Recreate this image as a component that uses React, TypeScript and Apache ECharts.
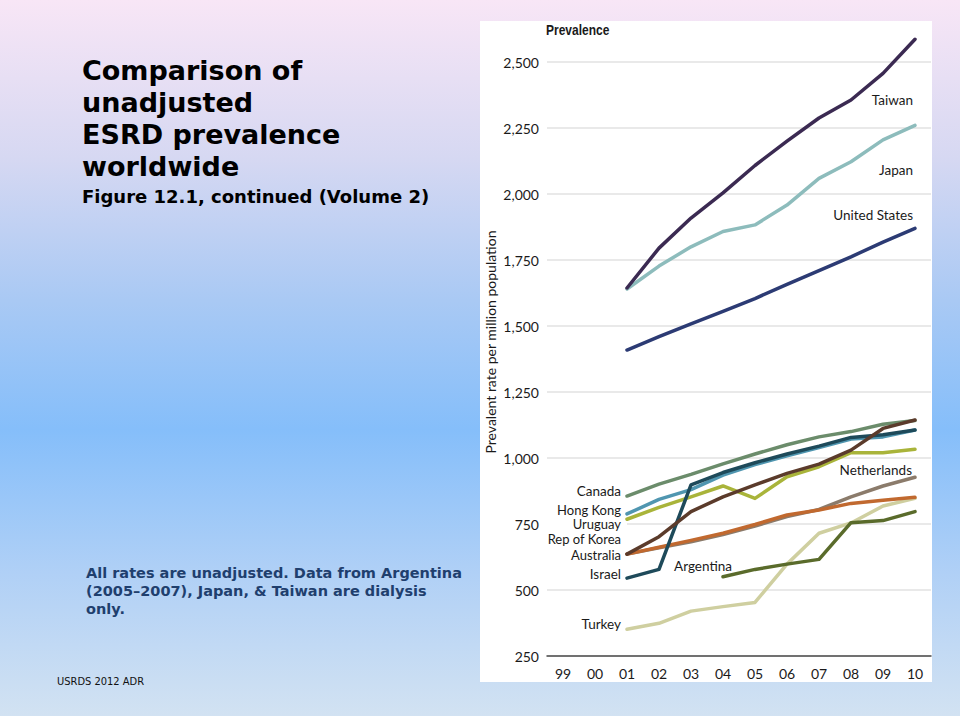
import React, { useEffect, useRef } from "react";
import * as echarts from "echarts";

const years = ["99", "00", "01", "02", "03", "04", "05", "06", "07", "08", "09", "10"];
const yTicks = [250, 500, 750, 1000, 1250, 1500, 1750, 2000, 2250, 2500];

const taiwan = [null, null, 1644, 1795, 1909, 2004, 2108, 2200, 2288, 2356, 2457, 2586];
const japan = [null, null, 1640, 1727, 1800, 1858, 1883, 1958, 2059, 2122, 2205, 2260];
const unitedStates = [null, null, 1409, 1460, 1508, 1555, 1604, 1658, 1710, 1762, 1818, 1870];
const canada = [null, null, 856, 901, 938, 978, 1015, 1050, 1080, 1100, 1128, 1142];
const hongKong = [null, null, 788, 843, 880, 935, 975, 1008, 1040, 1072, 1080, 1106];
const israel = [null, null, 545, 578, 898, 945, 982, 1015, 1045, 1078, 1088, 1106];
const uruguay = [null, null, 768, 813, 853, 894, 847, 929, 967, 1020, 1020, 1033];
const repOfKorea = [null, null, 636, 702, 797, 853, 898, 942, 977, 1030, 1112, 1144];
const australia = [null, null, 636, 662, 688, 715, 748, 784, 803, 828, 840, 851];
const netherlands = [null, null, 636, 660, 683, 710, 742, 778, 805, 853, 894, 927];
const argentina = [null, null, null, null, null, 550, 578, 598, 616, 755, 763, 797];
const turkey = [null, null, 351, 374, 420, 437, 453, 598, 715, 754, 818, 847];

const LABEL_FONT = "Lato, 'Open Sans', sans-serif";

type Lab = { idx: number; position: any; offset: number[]; distance?: number; size?: number };

function makeSeries(name: string, values: (number | null)[], color: string, lab: Lab, z: number) {
  return {
    name,
    type: "line",
    z,
    symbol: "circle",
    symbolSize: 0,
    showSymbol: true,
    clip: false,
    silent: true,
    connectNulls: false,
    lineStyle: { color, width: 3.5, cap: "round", join: "round" },
    itemStyle: { color },
    emphasis: { disabled: true },
    data: values.map((v, i) =>
      i === lab.idx
        ? {
            value: v,
            label: {
              show: true,
              formatter: name,
              position: lab.position,
              offset: lab.offset,
              distance: lab.distance ?? 6,
              color: "#1a1a1a",
              fontFamily: LABEL_FONT,
              fontSize: lab.size ?? 13,
              lineHeight: 13,
            },
          }
        : v
    ),
  };
}

export default function App() {
  const ref = useRef<HTMLDivElement>(null);

  useEffect(() => {
    if (!ref.current) return;
    const chart = echarts.init(ref.current, null, { renderer: "svg" });

    const series = [
      makeSeries("Taiwan", taiwan, "#3b2a52", { idx: 11, position: "left", offset: [-2, 61], distance: 0, size: 13.5 }, 5),
      makeSeries("Japan", japan, "#8dbcbc", { idx: 11, position: "left", offset: [-2, 45], distance: 0, size: 13.5 }, 4),
      makeSeries("United States", unitedStates, "#2c3b74", { idx: 11, position: "left", offset: [-2, -13], distance: 0, size: 13.5 }, 4),
      makeSeries("Netherlands", netherlands, "#8b7b6b", { idx: 11, position: "left", offset: [-3, -7], distance: 0, size: 13.5 }, 2),
      makeSeries("Turkey", turkey, "#cfcfa0", { idx: 2, position: "left", offset: [0, -5], size: 13.5 }, 2),
      makeSeries("Argentina", argentina, "#5a6b2b", { idx: 5, position: "top", offset: [-20, 0], distance: 4, size: 13.5 }, 3),
      makeSeries("Australia", australia, "#c1692f", { idx: 2, position: "left", offset: [0, 1] }, 3),
      makeSeries("Uruguay", uruguay, "#a9b43a", { idx: 2, position: "left", offset: [0, 5] }, 3),
      makeSeries("Canada", canada, "#6b8c6b", { idx: 2, position: "left", offset: [0, -5], size: 13.5 }, 3),
      makeSeries("Hong Kong", hongKong, "#5096b0", { idx: 2, position: "left", offset: [0, -4] }, 3),
      makeSeries("Israel", israel, "#1e4a5a", { idx: 2, position: "left", offset: [0, -4], size: 13.5 }, 3),
      makeSeries("Rep of Korea", repOfKorea, "#5b3b2b", { idx: 2, position: "left", offset: [0, -15] }, 4),
    ];

    chart.setOption({
      animation: false,
      backgroundColor: "transparent",
      grid: { left: 547, right: 29, top: 62, bottom: 60, containLabel: false },
      xAxis: {
        type: "category",
        data: years,
        boundaryGap: true,
        axisLine: { lineStyle: { color: "#4a4a4a", width: 1.5 } },
        axisTick: { inside: true, length: 7, alignWithLabel: true, lineStyle: { color: "#b0b0b0", width: 1 } },
        axisLabel: { margin: 10, color: "#1a1a1a", fontFamily: LABEL_FONT, fontSize: 14 },
        splitLine: { show: false },
      },
      yAxis: {
        type: "value",
        min: yTicks[0],
        max: yTicks[yTicks.length - 1],
        interval: 250,
        axisLine: { show: false },
        axisTick: { show: false },
        axisLabel: {
          margin: 8,
          color: "#1a1a1a",
          fontFamily: LABEL_FONT,
          fontSize: 14,
          formatter: (v: number) => v.toLocaleString("en-US"),
        },
        splitLine: { lineStyle: { color: "#e2e2e2", width: 1.5 } },
      },
      graphic: [
        { type: "rect", z: -5, shape: { x: 480, y: 21, width: 452, height: 661 }, style: { fill: "#ffffff" }, silent: true },
        { type: "rect", z: 1, shape: { x: 547, y: 523, width: 80, height: 3 }, style: { fill: "#ffffff" }, silent: true },
        {
          type: "text",
          x: 546,
          y: 30,
          scaleX: 0.8,
          style: { text: "Prevalence", font: "bold 15px 'Liberation Sans', Arial, sans-serif", fill: "#1a1a1a", verticalAlign: "middle" },
        },
        {
          type: "text",
          x: 490,
          y: 342,
          rotation: Math.PI / 2,
          style: {
            text: "Prevalent rate per million population",
            font: "14px Lato, 'Open Sans', sans-serif",
            fill: "#1a1a1a",
            align: "center",
            verticalAlign: "middle",
          },
        },
        {
          type: "text",
          x: 82,
          y: 54,
          style: {
            text: "Comparison of\nunadjusted\nESRD prevalence\nworldwide",
            font: "bold 27px 'DejaVu Sans', sans-serif",
            lineHeight: 32,
            fill: "#000000",
            verticalAlign: "top",
          },
        },
        {
          type: "text",
          x: 82,
          y: 196,
          style: {
            text: "Figure 12.1, continued (Volume 2)",
            font: "bold 18px 'DejaVu Sans', sans-serif",
            fill: "#000000",
            verticalAlign: "middle",
          },
        },
        {
          type: "text",
          x: 86,
          y: 564,
          style: {
            text: "All rates are unadjusted. Data from Argentina\n(2005\u20132007), Japan, & Taiwan are dialysis\nonly.",
            font: "bold 14.5px 'DejaVu Sans', Verdana, sans-serif",
            lineHeight: 18,
            fill: "#1f3f6e",
            verticalAlign: "top",
          },
        },
        {
          type: "text",
          x: 57,
          y: 681,
          style: {
            text: "USRDS 2012 ADR",
            font: "11px 'DejaVu Sans Condensed', 'DejaVu Sans', sans-serif",
            fill: "#111111",
            verticalAlign: "middle",
          },
        },
      ],
      series,
    });

    return () => chart.dispose();
  }, []);

  return (
    <div
      style={{
        position: "fixed",
        left: 0,
        top: 0,
        width: 960,
        height: 716,
        background: "linear-gradient(180deg, #f8e6f6 0%, #d6d8f2 22%, #a9c9f4 42%, #85befa 60%, #b0d0f6 80%, #d2e2f2 100%)",
      }}
    >
      <div ref={ref} style={{ width: 960, height: 716 }} />
    </div>
  );
}
